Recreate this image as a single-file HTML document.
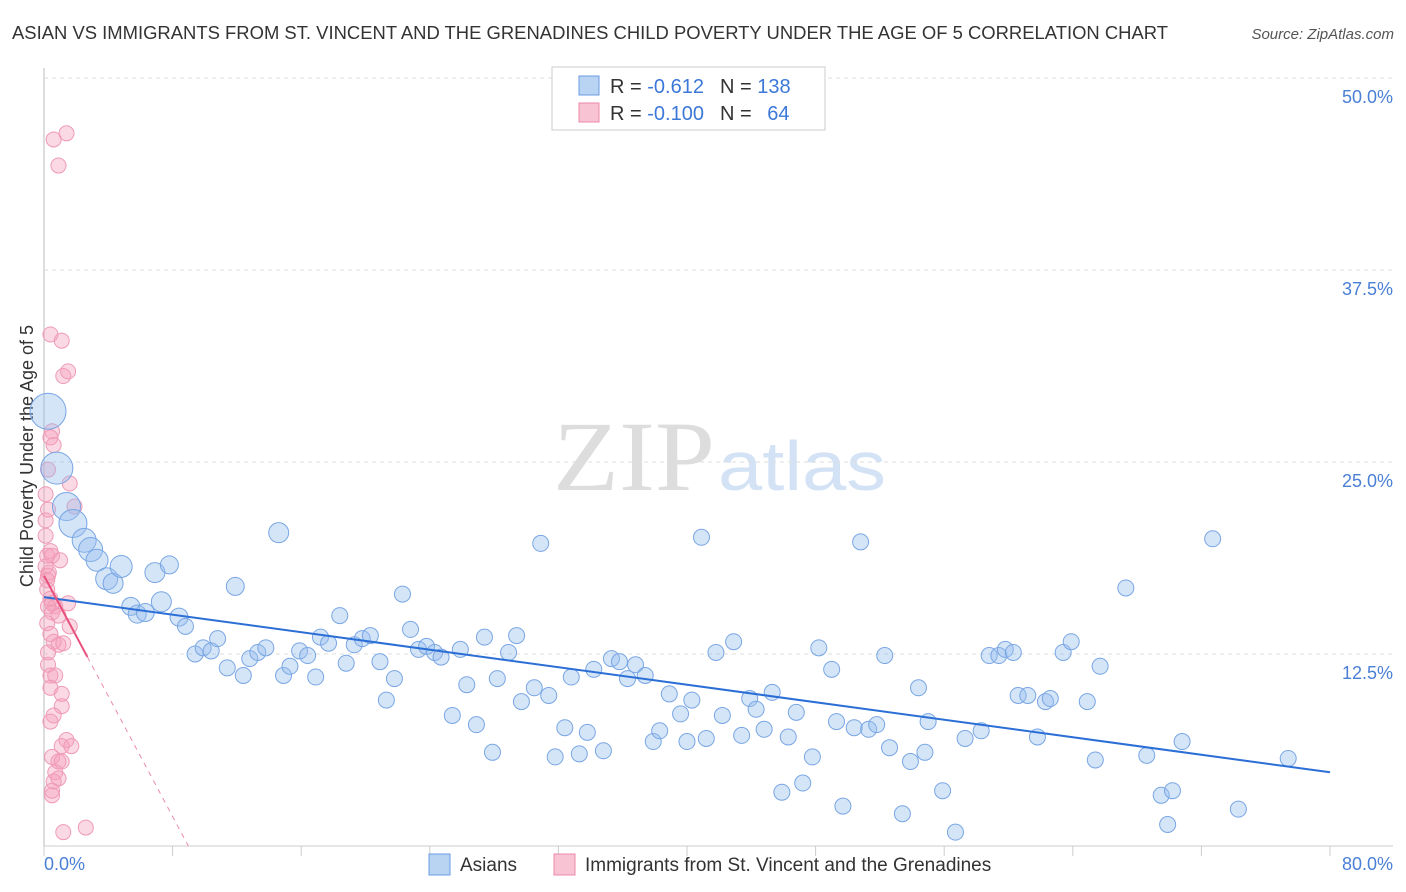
<!DOCTYPE html>
<html><head><meta charset="utf-8"><style>
body{margin:0;background:#fff;font-family:"Liberation Sans",sans-serif;}
#wrap{position:relative;width:1406px;height:892px;overflow:hidden;}
</style></head><body>
<div id="wrap">
<svg id="svg" width="1406" height="892" xmlns="http://www.w3.org/2000/svg">
<text x="12" y="39" font-size="18" fill="#333" textLength="1156" lengthAdjust="spacingAndGlyphs">ASIAN VS IMMIGRANTS FROM ST. VINCENT AND THE GRENADINES CHILD POVERTY UNDER THE AGE OF 5 CORRELATION CHART</text>
<text x="1394" y="39" font-size="15" fill="#555" font-style="italic" text-anchor="end">Source: ZipAtlas.com</text>
<text x="553" y="490" font-size="100" fill="#ddd" font-family="Liberation Serif,serif" textLength="162" lengthAdjust="spacingAndGlyphs">ZIP</text>
<text x="718" y="490" font-size="70" fill="#d3e2f5" textLength="168" lengthAdjust="spacingAndGlyphs">atlas</text>
<text transform="translate(33,456) rotate(-90)" font-size="18" fill="#333" text-anchor="middle">Child Poverty Under the Age of 5</text>
<g id="grid"></g><g id="pts"></g><g id="lines"></g>
<g>
<rect x="552" y="67" width="273" height="63" fill="#fff" stroke="#ccc"/>
<rect x="579" y="76" width="20" height="19" fill="#b9d3f3" stroke="#6a9be0"/>
<rect x="579" y="103" width="20" height="19" fill="#f8c3d3" stroke="#ec8aa9"/>
<text x="610" y="93" font-size="20" fill="#333">R = <tspan fill="#3c78d8">-0.612</tspan><tspan dx="16">N = </tspan><tspan fill="#3c78d8">138</tspan></text>
<text x="610" y="120" font-size="20" fill="#333">R = <tspan fill="#3c78d8">-0.100</tspan><tspan dx="16">N = </tspan><tspan fill="#3c78d8" dx="10">64</tspan></text>
</g>
<g>
<rect x="429" y="854" width="21" height="21" fill="#b9d3f3" stroke="#6a9be0"/>
<text x="460" y="871" font-size="19" fill="#333">Asians</text>
<rect x="554" y="854" width="21" height="21" fill="#f8c3d3" stroke="#ec8aa9"/>
<text x="585" y="871" font-size="19" fill="#333">Immigrants from St. Vincent and the Grenadines</text>
</g>
</svg>
</div>
<script>
const xTicks=[0,8,16,24,32,40,48,56,64,72,80];
const yTicks=[12.5,25,37.5,50];
const blueX=[0.25,0.8,1.4,1.8,2.5,2.9,3.3,3.9,4.3,4.8,5.4,5.8,6.3,6.9,7.3,7.8,8.4,8.8,9.4,9.9,10.4,10.8,11.4,11.9,12.4,12.8,13.3,13.8,14.6,14.9,15.3,15.9,16.4,16.9,17.2,17.7,18.4,18.8,19.3,19.8,20.3,20.9,21.3,21.8,22.3,22.8,23.3,23.8,24.3,24.7,25.4,25.9,26.3,26.9,27.4,27.9,28.2,28.9,29.4,29.7,30.5,30.9,31.4,31.8,32.4,32.8,33.3,33.8,34.2,34.8,35.3,35.8,36.3,36.8,37.4,37.9,38.3,38.9,39.6,40.0,40.3,40.9,41.2,41.8,42.2,42.9,43.4,43.9,44.3,44.8,45.3,45.9,46.3,46.8,47.2,47.8,48.2,49.0,49.3,49.7,50.4,50.8,51.3,51.8,52.3,52.6,53.4,53.9,54.4,54.8,55.0,55.9,56.7,57.3,58.3,58.8,59.4,59.8,60.3,60.6,61.2,61.8,62.3,62.6,63.4,63.9,64.9,65.4,65.7,67.3,68.6,69.5,69.9,70.2,70.8,72.7,74.3,77.4];
const blueY=[28.3,24.6,22.1,21.0,19.9,19.3,18.6,17.4,17.1,18.2,15.6,15.1,15.2,17.8,15.9,18.3,14.9,14.3,12.5,12.9,12.7,13.5,11.6,16.9,11.1,12.2,12.6,12.9,20.4,11.1,11.7,12.7,12.4,11.0,13.6,13.2,15.0,11.9,13.1,13.5,13.7,12.0,9.5,10.9,16.4,14.1,12.8,13.0,12.6,12.3,8.5,12.8,10.5,7.9,13.6,6.1,10.9,12.6,13.7,9.4,10.3,19.7,9.8,5.8,7.7,11.0,6.0,7.4,11.5,6.2,12.2,12.0,10.9,11.8,11.1,6.8,7.5,9.9,8.6,6.8,9.5,20.1,7.0,12.6,8.5,13.3,7.2,9.6,8.9,7.6,10.0,3.5,7.1,8.7,4.1,5.8,12.9,11.5,8.1,2.6,7.7,19.8,7.6,7.9,12.4,6.4,2.1,5.5,10.3,6.1,8.1,3.6,0.9,7.0,7.5,12.4,12.4,12.8,12.6,9.8,9.8,7.1,9.4,9.6,12.6,13.3,9.4,5.6,11.7,16.8,5.9,3.3,1.4,3.6,6.8,20.0,2.4,5.7];
const blueSize=[18,16,14,14,12,12,11,11,10,11,9,9,9,10,10,9,9,8,8,8,8,8,8,9,8,8,8,8,10];
const pinkX=[0.6,1.4,0.9,0.4,1.1,1.2,1.5,0.5,0.4,0.6,0.25,1.6,0.1,1.9,0.25,0.1,0.4,0.2,0.5,1.0,0.1,0.3,0.25,0.2,0.4,0.5,0.7,0.25,1.5,0.5,0.9,0.2,0.4,1.6,0.6,0.9,1.2,0.25,0.4,0.7,0.4,1.1,1.1,0.6,0.4,1.4,1.1,1.7,0.5,0.9,1.1,0.7,0.6,0.9,0.5,0.5,1.2,2.6,0.25,0.1,0.2];
const pinkY=[46.0,46.4,44.3,33.3,32.9,30.6,30.9,27.0,26.6,26.1,24.5,23.6,22.9,22.1,21.9,20.2,19.2,18.9,18.9,18.6,18.2,17.8,17.6,16.7,16.1,15.8,15.6,15.6,15.8,15.2,15.0,14.5,13.8,14.3,13.3,13.1,13.2,11.8,11.1,11.1,10.3,9.9,9.1,8.5,8.1,6.9,6.5,6.5,5.8,5.5,5.5,4.8,4.2,4.4,3.6,3.3,0.9,1.2,12.6,21.2,17.3];
const blueFit=[16.2,-0.1425];
const pinkFit=[17.6,-1.96];
const X0=44,X1=1330,Y0=846,Y1=78;
const sx=v=>X0+(v/80)*(X1-X0);
const sy=v=>Y0-(v/50)*(Y0-Y1);
const NS="http://www.w3.org/2000/svg";
function mk(tag,attrs,parent){const e=document.createElementNS(NS,tag);for(const k in attrs)e.setAttribute(k,attrs[k]);parent.appendChild(e);return e;}
const grid=document.getElementById('grid');
let ax=mk('line',{x1:X0,y1:68,x2:X0,y2:Y0,stroke:'#bbb'},grid);


let bx=mk('line',{x1:X0,y1:Y0,x2:1393,y2:Y0,stroke:'#ccc'},grid);


yTicks.forEach(t=>{
 const l=mk('line',{x1:X0,y1:sy(t),x2:1393,y2:sy(t),stroke:'#ddd','stroke-dasharray':'4,4'},grid);
 
 
 const tx=mk('text',{x:1393,y:sy(t)+25,'font-size':18,fill:'#4a7fd6','text-anchor':'end'},grid);
 tx.textContent=t.toFixed(1)+'%';
 
 
});
xTicks.forEach(t=>{
 const l=mk('line',{x1:sx(t),y1:Y0,x2:sx(t),y2:Y0+10,stroke:'#ccc'},grid);
 
 
});
[[0,'start'],[80,'end']].forEach(([t,a])=>{
 const tx=mk('text',{x:t===0?sx(t):1393,y:870,'font-size':18,fill:'#4a7fd6','text-anchor':a},grid);
 tx.textContent=t.toFixed(1)+'%';
 
 
});
const pts=document.getElementById('pts');
pinkX.forEach((x,i)=>{
 const c=mk('circle',{cx:sx(x),cy:sy(pinkY[i]),r:7.5,fill:'rgba(244,160,188,0.4)',stroke:'#ef9ab5','stroke-width':1},pts);
 
 
});
blueX.forEach((x,i)=>{
 const c=mk('circle',{cx:sx(x),cy:sy(blueY[i]),r:blueSize[i]||8,fill:'rgba(150,190,238,0.4)',stroke:'#79a6e4','stroke-width':1},pts);
 
 
});
const lines=document.getElementById('lines');
let bl=mk('line',{x1:sx(0),y1:sy(blueFit[0]),x2:sx(80),y2:sy(blueFit[0]+80*blueFit[1]),stroke:'#2b6fd6','stroke-width':2},lines);


const pEnd=2.7, pZero=-pinkFit[0]/pinkFit[1];
let pl=mk('line',{x1:sx(0),y1:sy(pinkFit[0]),x2:sx(pEnd),y2:sy(pinkFit[0]+pEnd*pinkFit[1]),stroke:'#e8507e','stroke-width':2},lines);


let pd=mk('line',{x1:sx(pEnd),y1:sy(pinkFit[0]+pEnd*pinkFit[1]),x2:sx(pZero),y2:sy(0),stroke:'#ec8aa9','stroke-width':1,'stroke-dasharray':'5,5'},lines);


</script>
</body></html>
